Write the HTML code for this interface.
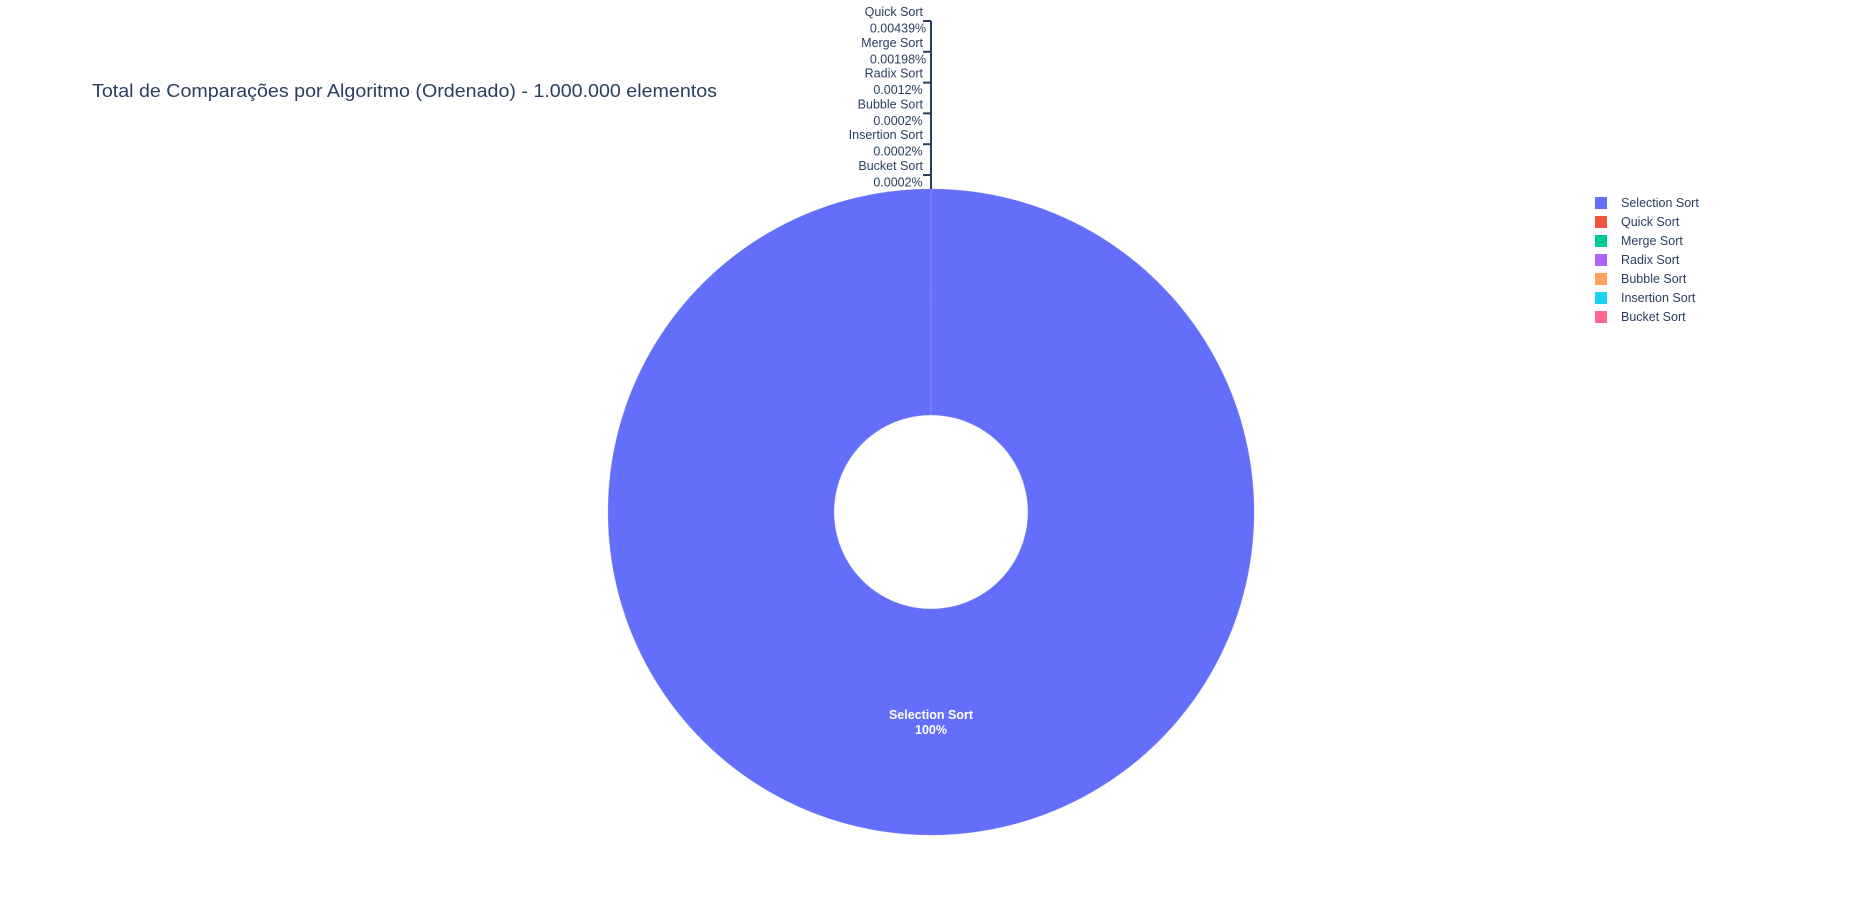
<!DOCTYPE html>
<html><head><meta charset="utf-8"><style>
html,body{margin:0;padding:0;background:#fff;}
svg{display:block;font-family:"Liberation Sans",sans-serif;}
</style></head>
<body>
<svg id="chart" width="1863" height="915" viewBox="0 0 1863 915">
<text x="92" y="97" font-size="18" fill="#2a3f5f" textLength="625" lengthAdjust="spacingAndGlyphs">Total de Comparações por Algoritmo (Ordenado) - 1.000.000 elementos</text>
<g id="slices"></g>
<g id="labels"></g>
<g id="legend"></g>
</svg>
<script>
const categories = ["Selection Sort","Quick Sort","Merge Sort","Radix Sort","Bubble Sort","Insertion Sort","Bucket Sort"];
const values = [99.9918, 0.00439, 0.00198, 0.0012, 0.0002, 0.0002, 0.0002];
const pctLabels = ["100%","0.00439%","0.00198%","0.0012%","0.0002%","0.0002%","0.0002%"];
const colors = ["#636efa","#EF553B","#00cc96","#ab63fa","#FFA15A","#19d3f3","#FF6692"];

const NS="http://www.w3.org/2000/svg";
const cx=931, cy=512, R=323, r=97;
const total=values.reduce((a,b)=>a+b,0);
function pt(a,rad){return [cx+rad*Math.sin(a), cy-rad*Math.cos(a)];}
const gS=document.getElementById('slices');
let ang=0;
values.forEach((v,i)=>{
  const a0=ang, a1=ang+v/total*2*Math.PI; ang=a1;
  const large=(a1-a0)>Math.PI?1:0;
  const p0=pt(a0,R),p1=pt(a1,R),q1=pt(a1,r),q0=pt(a0,r);
  const p=document.createElementNS(NS,'path');
  p.setAttribute('d',`M${p0[0]},${p0[1]}A${R},${R} 0 ${large} 1 ${p1[0]},${p1[1]}L${q1[0]},${q1[1]}A${r},${r} 0 ${large} 0 ${q0[0]},${q0[1]}Z`);
  p.setAttribute('fill',colors[i]);
  p.setAttribute('stroke','#8a92fb');p.setAttribute('stroke-width','0.4');
  
  
  gS.appendChild(p);
});
const gL=document.getElementById('labels');
function txt(parent,x,y,s,opts){
  const t=document.createElementNS(NS,'text');
  t.setAttribute('x',x);t.setAttribute('y',y);t.textContent=s;
  t.setAttribute('font-size','12.5');
  for(const k in opts)t.setAttribute(k,opts[k]);
  parent.appendChild(t);return t;
}
const t1=txt(gL,cx,719,categories[0],{fill:'#fff','text-anchor':'middle','font-weight':'bold'});


const t2=txt(gL,cx,734,pctLabels[0],{fill:'#fff','text-anchor':'middle','font-weight':'bold'});


const lineX=931;
const path=document.createElementNS(NS,'path');
let d=`M${lineX},${cy-R}L${lineX},21`;
for(let i=1;i<categories.length;i++){
  const y0=16+(i-1)*30.8;
  const a=txt(gL,923,y0,categories[i],{fill:'#2a3f5f','text-anchor':'end'});
  
  
  const b=txt(gL,898,y0+16.5,pctLabels[i],{fill:'#2a3f5f','text-anchor':'middle'});
  
  
  d+=`M${lineX},${y0+5}L${lineX-8},${y0+5}`;
}
path.setAttribute('d',d);path.setAttribute('stroke','#2a3f5f');path.setAttribute('stroke-width','2');path.setAttribute('fill','none');


gL.appendChild(path);
const gG=document.getElementById('legend');
categories.forEach((c,i)=>{
  const y=203+i*19;
  const g=document.createElementNS(NS,'g');
  
  
  const s=document.createElementNS(NS,'rect');
  s.setAttribute('x',1595);s.setAttribute('y',y-6);s.setAttribute('width',12);s.setAttribute('height',12);
  s.setAttribute('fill',colors[i]);
  
  
  g.appendChild(s);
  const t=txt(g,1621,y+4,c,{fill:'#2a3f5f'});
  
  
  gG.appendChild(g);
});
</script>
</body></html>
